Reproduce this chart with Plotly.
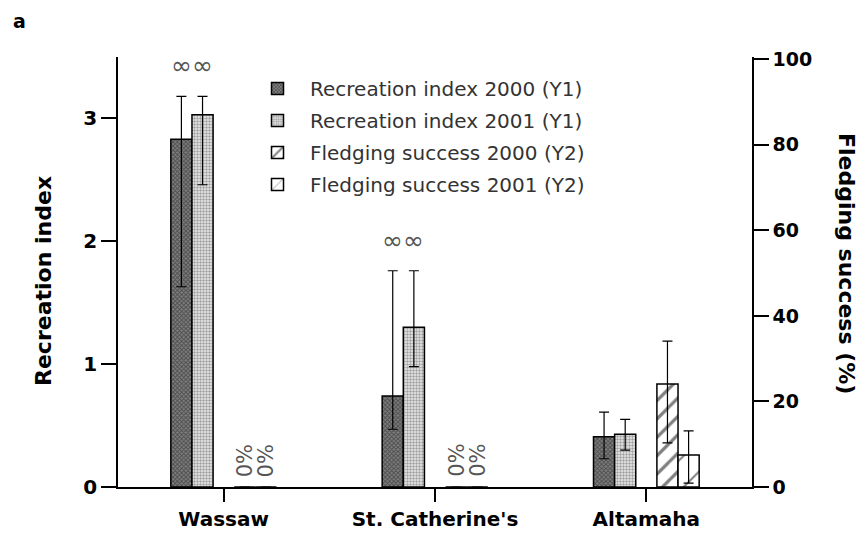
import plotly.graph_objects as go

# ---- data ----
sites = ["Wassaw", "St. Catherine's", "Altamaha"]
rec2000 = [2.83, 0.74, 0.41]
rec2000_up = [0.35, 1.02, 0.20]
rec2000_dn = [1.20, 0.27, 0.18]
rec2001 = [3.03, 1.30, 0.43]
rec2001_up = [0.15, 0.46, 0.12]
rec2001_dn = [0.57, 0.32, 0.13]
fled2000 = [0.0, 0.0, 24.1]
fled2000_up = [0.0, 0.0, 10.0]
fled2000_dn = [0.0, 0.0, 13.8]
fled2001 = [0.0, 0.0, 7.5]
fled2001_up = [0.0, 0.0, 5.6]
fled2001_dn = [0.0, 0.0, 6.6]
fled_labels = ["0%", "0%", ""]
sig2000 = ["∞", "∞", ""]
sig2001 = ["∞", "∞", ""]
left_ticks = [0, 1, 2, 3]
right_ticks = [0, 20, 40, 60, 80, 100]

FONT = "DejaVu Sans"
ML, MR, MT, MB = 118, 115, 57, 50
PW = 867 - ML - MR
PH = 537 - MT - MB


def px(xp):
    return (xp - ML) / PW


def py(yp):
    return (537 - MB - yp) / PH


xs = list(range(len(sites)))
W = 0.1
off = {"r0": -0.25, "r1": -0.15, "f0": 0.05, "f1": 0.15}


def err(up, dn):
    return dict(type="data", symmetric=False, array=up, arrayminus=dn,
                color="black", thickness=1.2, width=5)


fig = go.Figure()
fig.add_trace(go.Bar(
    x=xs, y=rec2000, width=W, offset=off["r0"], name="Recreation index 2000 (Y1)",
    legendgroup="a",
    marker=dict(color="#808080", line=dict(color="black", width=1.5),
                pattern=dict(shape="x", fgcolor="#141414", bgcolor="#808080", size=3, solidity=0.5)),
    error_y=err(rec2000_up, rec2000_dn), yaxis="y"))
fig.add_trace(go.Bar(
    x=xs, y=rec2001, width=W, offset=off["r1"], name="Recreation index 2001 (Y1)",
    legendgroup="b",
    marker=dict(color="#e8e8e8", line=dict(color="black", width=1.5),
                pattern=dict(shape=".", fgcolor="#505050", bgcolor="#eeeeee", size=3, solidity=0.5)),
    error_y=err(rec2001_up, rec2001_dn), yaxis="y"))
fig.add_trace(go.Bar(
    x=xs, y=fled2000, width=W, offset=off["f0"], name="Fledging success 2000 (Y2)",
    legendgroup="c",
    marker=dict(color="white", line=dict(color="black", width=1.5),
                pattern=dict(shape="/", fgcolor="black", bgcolor="white", size=13, solidity=0.25)),
    error_y=err(fled2000_up, fled2000_dn), yaxis="y2"))
fig.add_trace(go.Bar(
    x=xs, y=fled2001, width=W, offset=off["f1"], name="Fledging success 2001 (Y2)",
    legendgroup="d",
    marker=dict(color="white", line=dict(color="black", width=1.5),
                pattern=dict(shape="/", fgcolor="black", bgcolor="white", size=22, solidity=0.09)),
    error_y=err(fled2001_up, fled2001_dn), yaxis="y2"))

annotations = []
for i in xs:
    for vals, ups, sig, o in ((rec2000, rec2000_up, sig2000, off["r0"]),
                              (rec2001, rec2001_up, sig2001, off["r1"])):
        if sig[i]:
            annotations.append(dict(x=i + o + W / 2, y=vals[i] + ups[i] + 0.25, xref="x", yref="y",
                                    text=sig[i], showarrow=False,
                                    font=dict(family=FONT, size=25, color="#555")))
    for vals, o in ((fled2000, off["f0"]), (fled2001, off["f1"])):
        if fled_labels[i]:
            annotations.append(dict(x=i + o + W / 2, y=vals[i], xref="x", yref="y2",
                                    yanchor="bottom", yshift=8, textangle=-90,
                                    text=fled_labels[i], showarrow=False,
                                    font=dict(family=FONT, size=21, color="#555")))
annotations.append(dict(x=px(19), y=py(21), xref="paper", yref="paper", xanchor="center",
                        yanchor="middle", text="a", showarrow=False,
                        font=dict(family=FONT, size=19, color="black", weight="bold")))
annotations.append(dict(x=px(43), y=py(281), xref="paper", yref="paper", xanchor="center",
                        yanchor="middle", text="Recreation index",
                        showarrow=False, textangle=-90,
                        font=dict(family=FONT, size=22, color="black", weight="bold")))
annotations.append(dict(x=px(847), y=py(263), xref="paper", yref="paper", xanchor="center",
                        yanchor="middle", text="Fledging success (%)",
                        showarrow=False, textangle=90,
                        font=dict(family=FONT, size=22, color="black", weight="bold")))

fig.update_layout(
    width=867, height=537,
    margin=dict(l=ML, r=MR, t=MT, b=MB, autoexpand=False),
    paper_bgcolor="white", plot_bgcolor="white",
    barmode="overlay",
    showlegend=True,
    legend=dict(x=px(245), y=py(69), xanchor="left", yanchor="top", traceorder="grouped",
                tracegroupgap=3, itemwidth=55, bgcolor="rgba(0,0,0,0)",
                font=dict(family=FONT, size=20, color="#333")),
    xaxis=dict(range=[-0.5, 2.5], tickvals=xs, ticktext=sites, showline=True, linecolor="black",
               linewidth=1.5, ticks="outside", ticklen=13, tickwidth=1.5, tickcolor="black",
               showgrid=False, zeroline=False, automargin=False,
               tickfont=dict(family=FONT, size=20, color="black", weight="bold")),
    yaxis=dict(range=[0, 3.5], tickvals=left_ticks, showline=True, linecolor="black", linewidth=1.5,
               ticks="outside", ticklen=15, tickwidth=1.5, tickcolor="black", showgrid=False,
               zeroline=False, automargin=False,
               tickfont=dict(family=FONT, size=20, color="black", weight="bold")),
    yaxis2=dict(range=[0, 100.5], tickvals=right_ticks, overlaying="y", side="right", showline=True,
                linecolor="black", linewidth=1.5, ticks="outside", ticklen=15, tickwidth=1.5,
                tickcolor="black", showgrid=False, zeroline=False, automargin=False,
                tickfont=dict(family=FONT, size=19, color="black", weight="bold")),
    annotations=annotations,
)

fig.write_html("out.html", config={"displayModeBar": False},
               post_script="document.body.style.margin='0px';")
